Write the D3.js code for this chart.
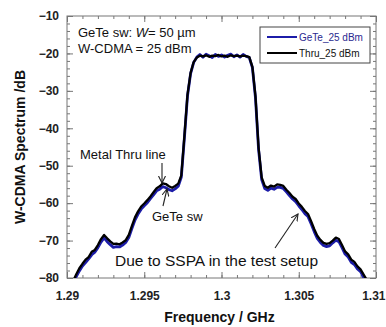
<!DOCTYPE html>
<html>
<head>
<meta charset="utf-8">
<script src="https://cdn.jsdelivr.net/npm/d3@7"></script>
<style>
  body { margin: 0; background: #fff; }
  svg { font-family: "Liberation Sans", Arial, sans-serif; }
</style>
</head>
<body>
<svg id="chart" width="386" height="327"></svg>
<script>
// frequency grid (GHz)
const freq = [
  1.2904, 1.2906, 1.2908, 1.2910, 1.2912, 1.2914, 1.2916, 1.2918, 1.2920, 1.2922,
  1.2924, 1.2926, 1.2928, 1.2930, 1.2932, 1.2934, 1.2936, 1.2938, 1.2940, 1.2942,
  1.2944, 1.2946, 1.2948, 1.2950, 1.2952, 1.2954, 1.2956, 1.2958, 1.2960, 1.2962,
  1.2964, 1.2966, 1.2968, 1.2970, 1.2972, 1.2974, 1.2976, 1.2978, 1.2980, 1.2982,
  1.2984, 1.2986, 1.2988, 1.2990, 1.2992, 1.2994, 1.2996, 1.2998, 1.3000, 1.3002,
  1.3004, 1.3006, 1.3008, 1.3010, 1.3012, 1.3014, 1.3016, 1.3018, 1.3020, 1.3022,
  1.3024, 1.3026, 1.3028, 1.3030, 1.3032, 1.3034, 1.3036, 1.3038, 1.3040, 1.3042,
  1.3044, 1.3046, 1.3048, 1.3050, 1.3052, 1.3054, 1.3056, 1.3058, 1.3060, 1.3062,
  1.3064, 1.3066, 1.3068, 1.3070, 1.3072, 1.3074, 1.3076, 1.3078, 1.3080, 1.3082,
  1.3084, 1.3086, 1.3088, 1.3090, 1.3092, 1.3094
];

// Thru_25 dBm (dB)
const thru = [
  -80.8, -79.0, -77.4, -76.2, -75.1, -74.4, -73.0, -72.5, -71.2, -69.6,
  -68.5, -69.4, -70.2, -70.9, -70.8, -71.0, -70.5, -69.9, -68.5, -66.1,
  -63.8, -62.2, -60.9, -60.1, -59.2, -58.2, -57.1, -56.0, -55.5, -54.7,
  -54.9, -55.5, -55.9, -55.4, -54.8, -52.6, -42.0, -31.0, -25.2, -22.3,
  -21.1, -20.6, -20.8, -20.5, -20.9, -20.6, -20.7, -20.4, -20.8, -20.6,
  -20.9, -20.5, -20.7, -20.6, -20.8, -20.6, -20.7, -21.0, -23.6, -31.5,
  -45.2, -53.1, -55.4, -55.9, -55.3, -55.6, -55.0, -55.1, -55.4, -56.4,
  -57.3, -58.3, -58.9, -60.1, -61.0, -62.1, -62.9, -64.8, -66.9, -68.7,
  -69.8, -70.6, -70.9, -70.7, -70.0, -69.2, -69.6, -71.2, -72.9, -73.7,
  -75.1, -75.7, -76.9, -77.7, -79.1, -80.5
];

// GeTe_25 dBm (dB)
const gete = [
  -81.3, -79.6, -78.1, -76.8, -75.9, -74.9, -73.8, -73.1, -71.9, -70.4,
  -69.3, -70.3, -71.1, -71.8, -71.6, -71.7, -71.2, -70.5, -69.2, -66.8,
  -64.5, -62.9, -61.6, -60.7, -59.9, -58.8, -57.8, -56.7, -56.3, -55.6,
  -55.9, -56.4, -56.7, -56.2, -55.5, -53.0, -42.5, -31.3, -25.4, -22.4,
  -21.0, -20.3, -21.0, -20.2, -20.6, -21.1, -20.3, -20.8, -20.4, -21.0,
  -20.5, -20.2, -20.9, -20.4, -21.0, -20.3, -20.8, -21.1, -23.8, -31.9,
  -45.7, -53.7, -56.1, -56.6, -56.0, -56.3, -55.8, -55.8, -56.1, -57.0,
  -58.0, -58.9, -59.6, -60.7, -61.7, -62.8, -63.6, -65.5, -67.6, -69.4,
  -70.5, -71.3, -71.6, -71.4, -70.6, -69.9, -70.3, -71.9, -73.6, -74.4,
  -75.8, -76.4, -77.6, -78.3, -79.8, -81.2
];

const xTicks = [1.29, 1.295, 1.3, 1.305, 1.31];
const xTickLabels = ["1.29", "1.295", "1.3", "1.305", "1.31"];
const yTicks = [-80, -70, -60, -50, -40, -30, -20, -10];

const margin = { top: 16, right: 10, bottom: 49, left: 67 };
const width = 386, height = 327;
const x0 = margin.left, x1 = width - margin.right;
const y0 = height - margin.bottom, y1 = margin.top;

const svg = d3.select("#chart");

const x = d3.scaleLinear().domain([1.29, 1.31]).range([x0, x1]);
const y = d3.scaleLinear().domain([-80, -10]).range([y0, y1]);

svg.append("defs").append("clipPath").attr("id", "plotClip")
  .append("rect")
  .attr("x", x0).attr("y", y1)
  .attr("width", x1 - x0).attr("height", y0 - y1);

const axisColor = "#777";

// minor / major ticks on all four sides, pointing inward
function styleAxis(g) {
  g.select(".domain").remove();
  g.selectAll(".tick line").attr("stroke", axisColor);
}

const xMinor = d3.range(1.29, 1.3101, 0.001);
const yMinor = d3.range(-80, -9.9, 2);

svg.append("g").attr("transform", `translate(0,${y0})`)
  .call(d3.axisTop(x).tickValues(xMinor).tickSize(3).tickFormat(""))
  .call(styleAxis);
svg.append("g").attr("transform", `translate(0,${y1})`)
  .call(d3.axisBottom(x).tickValues(xMinor).tickSize(3).tickFormat(""))
  .call(styleAxis);
svg.append("g").attr("transform", `translate(${x0},0)`)
  .call(d3.axisRight(y).tickValues(yMinor).tickSize(3).tickFormat(""))
  .call(styleAxis);
svg.append("g").attr("transform", `translate(${x1},0)`)
  .call(d3.axisLeft(y).tickValues(yMinor).tickSize(3).tickFormat(""))
  .call(styleAxis);

svg.append("g").attr("transform", `translate(0,${y0})`)
  .call(d3.axisTop(x).tickValues(xTicks).tickSize(6).tickFormat(""))
  .call(styleAxis);
svg.append("g").attr("transform", `translate(0,${y1})`)
  .call(d3.axisBottom(x).tickValues(xTicks).tickSize(6).tickFormat(""))
  .call(styleAxis);
svg.append("g").attr("transform", `translate(${x0},0)`)
  .call(d3.axisRight(y).tickValues(yTicks).tickSize(6).tickFormat(""))
  .call(styleAxis);
svg.append("g").attr("transform", `translate(${x1},0)`)
  .call(d3.axisLeft(y).tickValues(yTicks).tickSize(6).tickFormat(""))
  .call(styleAxis);

// tick labels
const xl = svg.append("g").attr("transform", `translate(0,${y0})`)
  .call(d3.axisBottom(x).tickValues(xTicks).tickSize(0).tickPadding(13)
    .tickFormat((d, i) => xTickLabels[i]));
xl.select(".domain").remove();
xl.selectAll("text").attr("font-size", 12).attr("font-weight", "bold")
  .attr("font-family", "Liberation Sans, Arial, sans-serif").attr("fill", "#222");
// the last label sits against the right edge of the picture
xl.selectAll("text").filter(d => d === 1.31)
  .attr("text-anchor", "end").attr("x", width - x1 - 1);

const yl = svg.append("g").attr("transform", `translate(${x0},0)`)
  .call(d3.axisLeft(y).tickValues(yTicks).tickSize(0).tickPadding(8)
    .tickFormat(d => "\u2212" + Math.abs(d)));
yl.select(".domain").remove();
yl.selectAll("text").attr("font-size", 12).attr("font-weight", "bold")
  .attr("font-family", "Liberation Sans, Arial, sans-serif").attr("fill", "#222");

// frame
svg.append("rect")
  .attr("x", x0).attr("y", y1)
  .attr("width", x1 - x0).attr("height", y0 - y1)
  .attr("fill", "none").attr("stroke", axisColor).attr("stroke-width", 1);

// series
const line = d3.line()
  .x((d, i) => x(freq[i]))
  .y(d => y(d))
  .curve(d3.curveLinear);

const plot = svg.append("g").attr("clip-path", "url(#plotClip)");
plot.append("path").datum(gete)
  .attr("d", line)
  .attr("fill", "none").attr("stroke", "#1c1ca8").attr("stroke-width", 2.8)
  .attr("stroke-linejoin", "round");
plot.append("path").datum(thru)
  .attr("d", line)
  .attr("fill", "none").attr("stroke", "#000").attr("stroke-width", 2.3)
  .attr("stroke-linejoin", "round");

// arrow marker
svg.append("defs").append("marker")
  .attr("id", "arrow")
  .attr("markerWidth", 8).attr("markerHeight", 8)
  .attr("refX", 7).attr("refY", 4)
  .attr("orient", "auto")
  .attr("markerUnits", "userSpaceOnUse")
  .append("path")
  .attr("d", "M0,0.5 L7,4 L0,7.5")
  .attr("fill", "none").attr("stroke", "#222").attr("stroke-width", 1.1);

// annotations
const ann = svg.append("g").attr("fill", "#111").attr("font-size", 13);
const t1 = ann.append("text").attr("x", 78).attr("y", 37);
t1.append("tspan").text("GeTe sw: ");
t1.append("tspan").attr("font-style", "italic").text("W");
t1.append("tspan").text("= 50 \u00b5m");
ann.append("text").attr("x", 78).attr("y", 53).text("W-CDMA = 25 dBm");

ann.append("text").attr("x", 80).attr("y", 159).text("Metal Thru line");
ann.append("text").attr("x", 152).attr("y", 221).text("GeTe sw");
ann.append("text").attr("x", 115).attr("y", 266).attr("font-size", 15.5)
  .text("Due to SSPA in the test setup");

function arrow(xa, ya, xb, yb) {
  svg.append("line")
    .attr("x1", xa).attr("y1", ya).attr("x2", xb).attr("y2", yb)
    .attr("stroke", "#222").attr("stroke-width", 1.1)
    .attr("marker-end", "url(#arrow)");
}
arrow(162, 163, 162, 183);
arrow(163, 206, 167, 189);
arrow(275, 248, 298, 214);

// legend
const leg = svg.append("g");
leg.append("rect")
  .attr("x", 260).attr("y", 27).attr("width", 110).attr("height", 36)
  .attr("fill", "#fff").attr("stroke", "#444").attr("stroke-width", 1);
const legendItems = [
  { name: "GeTe_25 dBm", color: "#1c1ca8", text: "#2a2a90" },
  { name: "Thru_25 dBm", color: "#000", text: "#111" }
];
legendItems.forEach((d, i) => {
  const yy = 37 + i * 16;
  leg.append("line")
    .attr("x1", 267).attr("x2", 297).attr("y1", yy).attr("y2", yy)
    .attr("stroke", d.color).attr("stroke-width", 2);
  leg.append("text")
    .attr("x", 299).attr("y", yy + 3.5)
    .attr("font-size", 10).attr("fill", d.text)
    .text(d.name);
});

// axis titles
svg.append("text")
  .attr("x", (x0 + x1) / 2 - 2).attr("y", 322)
  .attr("text-anchor", "middle")
  .attr("font-size", 14).attr("font-weight", "bold").attr("fill", "#111")
  .text("Frequency / GHz");

svg.append("text")
  .attr("transform", `translate(25,${(y0 + y1) / 2}) rotate(-90)`)
  .attr("text-anchor", "middle")
  .attr("font-size", 14).attr("font-weight", "bold").attr("fill", "#111")
  .text("W-CDMA Spectrum /dB");
</script>
</body>
</html>
